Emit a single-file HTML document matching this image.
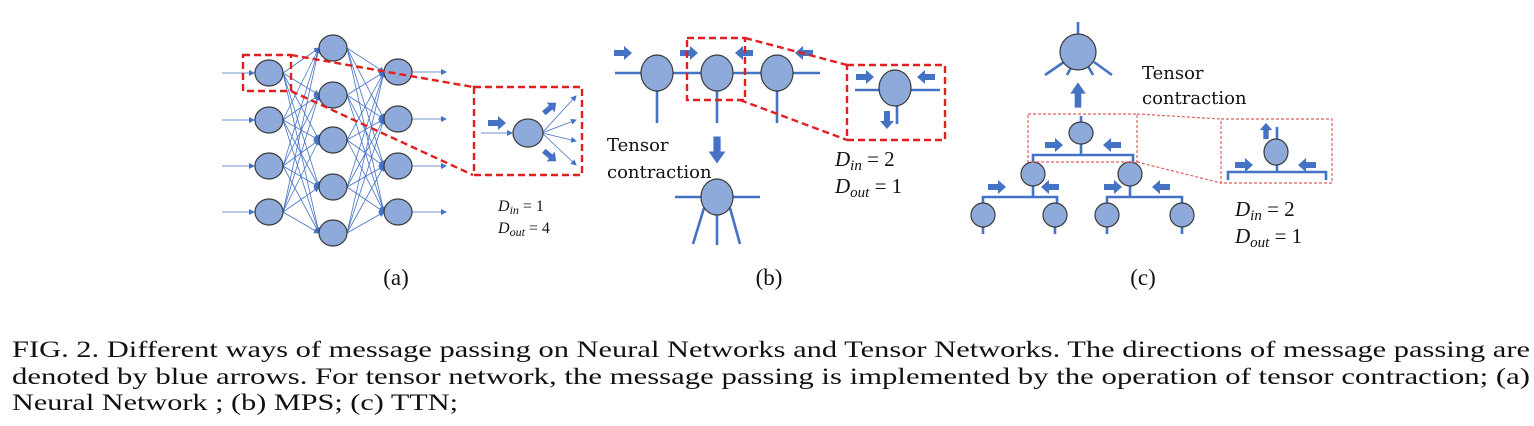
<!DOCTYPE html>
<html><head><meta charset="utf-8"><style>
html,body{margin:0;padding:0;background:#fff;}
svg{display:block;}
.n{fill:#8eaadb;stroke:#3a3a3a;stroke-width:1.2;}
.l{stroke:#4472c4;stroke-width:2.6;fill:none;}
.t{stroke:#4472c4;stroke-width:0.8;fill:none;}
.rd{stroke:#e02020;stroke-width:2.4;fill:none;stroke-dasharray:7,4;}
.rs{stroke:#e06060;stroke-width:1.2;fill:none;stroke-dasharray:3,2;}
.cap{font-family:"Liberation Serif",serif;font-size:23px;fill:#111;}
.tx{font-family:"DejaVu Serif","Liberation Serif",serif;font-size:18px;fill:#111;}
.m{font-family:"Liberation Serif",serif;fill:#111;}
</style></head><body>
<svg width="1534" height="426" viewBox="0 0 1534 426" xmlns="http://www.w3.org/2000/svg">
<defs>
<polygon id="ar" points="-9,-3 1,-3 1,-7 9,0 1,7 1,3 -9,3" fill="#4472c4"/>
<marker id="mh" markerWidth="6" markerHeight="6" refX="5" refY="3" orient="auto" markerUnits="userSpaceOnUse"><polygon points="0,0 6,3 0,6" fill="#4472c4"/></marker>
</defs>
<!-- (a) -->
<g id="nn"></g>
<g>
<line class="t" x1="222" y1="73" x2="254" y2="73" marker-end="url(#mh)"/>
<line class="t" x1="222" y1="120" x2="254" y2="120" marker-end="url(#mh)"/>
<line class="t" x1="222" y1="166" x2="254" y2="166" marker-end="url(#mh)"/>
<line class="t" x1="222" y1="212" x2="254" y2="212" marker-end="url(#mh)"/>
<line class="t" x1="412" y1="72" x2="446" y2="72" marker-end="url(#mh)"/>
<line class="t" x1="412" y1="119" x2="446" y2="119" marker-end="url(#mh)"/>
<line class="t" x1="412" y1="166" x2="446" y2="166" marker-end="url(#mh)"/>
<line class="t" x1="412" y1="212" x2="446" y2="212" marker-end="url(#mh)"/>
</g>
<g id="nodesA"></g>
<rect class="rd" x="243" y="55" width="48" height="36"/>
<line class="rd" x1="291" y1="55" x2="473" y2="87"/>
<line class="rd" x1="291" y1="91" x2="473" y2="175"/>
<rect class="rd" x="474" y="87" width="108" height="88"/>
<line class="t" x1="481" y1="133" x2="512" y2="133" marker-end="url(#mh)"/>
<use href="#ar" transform="translate(497,123)"/>
<line class="t" x1="542" y1="133" x2="576" y2="96" marker-end="url(#mh)"/>
<line class="t" x1="542" y1="133" x2="576" y2="120" marker-end="url(#mh)"/>
<line class="t" x1="542" y1="133" x2="576" y2="141" marker-end="url(#mh)"/>
<line class="t" x1="542" y1="133" x2="576" y2="165" marker-end="url(#mh)"/>
<use href="#ar" transform="translate(550,108) rotate(-40) scale(0.9)"/>
<use href="#ar" transform="translate(550,156) rotate(40) scale(0.9)"/>
<ellipse class="n" cx="528" cy="133" rx="15" ry="14"/>
<text class="m" x="498" y="211" font-size="16"><tspan font-style="italic">D</tspan><tspan font-style="italic" font-size="12" dy="3">in</tspan><tspan dy="-3"> = 1</tspan></text>
<text class="m" x="498" y="233" font-size="16"><tspan font-style="italic">D</tspan><tspan font-style="italic" font-size="12" dy="3">out</tspan><tspan dy="-3"> = 4</tspan></text>
<text class="cap" x="396" y="285" text-anchor="middle">(a)</text>
<!-- (b) -->
<line class="l" x1="615" y1="73" x2="820" y2="73"/>
<line class="l" x1="657" y1="90" x2="657" y2="123"/>
<line class="l" x1="717" y1="90" x2="717" y2="123"/>
<line class="l" x1="777" y1="90" x2="777" y2="123"/>
<ellipse class="n" cx="657" cy="73" rx="16" ry="18"/>
<ellipse class="n" cx="717" cy="73" rx="16" ry="18"/>
<ellipse class="n" cx="777" cy="73" rx="16" ry="18"/>
<use href="#ar" transform="translate(623,53)"/>
<use href="#ar" transform="translate(689,53)"/>
<use href="#ar" transform="translate(744,53) rotate(180)"/>
<use href="#ar" transform="translate(804,53) rotate(180)"/>
<rect class="rd" x="687" y="38" width="58" height="62"/>
<line class="rd" x1="745" y1="38" x2="847" y2="65"/>
<line class="rd" x1="740" y1="100" x2="847" y2="140"/>
<rect class="rd" x="847" y="65" width="98" height="75"/>
<line class="l" x1="855" y1="90" x2="940" y2="90"/>
<line class="l" x1="897" y1="105" x2="897" y2="124"/>
<ellipse class="n" cx="895" cy="88" rx="16" ry="18"/>
<use href="#ar" transform="translate(865,77)"/>
<use href="#ar" transform="translate(926,77) rotate(180)"/>
<use href="#ar" transform="translate(887,120) rotate(90)"/>
<text class="tx" x="607" y="151">Tensor</text>
<text class="tx" x="607" y="178">contraction</text>
<use href="#ar" transform="translate(717,150) rotate(90) scale(1.5,1.2)"/>
<line class="l" x1="675" y1="197" x2="760" y2="197"/>
<line class="l" x1="704" y1="208" x2="693" y2="244"/>
<line class="l" x1="717" y1="212" x2="717" y2="245"/>
<line class="l" x1="730" y1="208" x2="740" y2="244"/>
<ellipse class="n" cx="717" cy="197" rx="16" ry="18"/>
<text class="m" x="835" y="166" font-size="21"><tspan font-style="italic">D</tspan><tspan font-style="italic" font-size="15" dy="4">in</tspan><tspan dy="-4"> =  2</tspan></text>
<text class="m" x="835" y="193" font-size="21"><tspan font-style="italic">D</tspan><tspan font-style="italic" font-size="15" dy="4">out</tspan><tspan dy="-4"> = 1</tspan></text>
<text class="cap" x="769" y="285" text-anchor="middle">(b)</text>
<!-- (c) -->
<line class="l" x1="1078" y1="22" x2="1078" y2="36"/>
<line class="l" x1="1045" y1="75" x2="1064" y2="62"/>
<line class="l" x1="1067" y1="75" x2="1072" y2="66"/>
<line class="l" x1="1093" y1="75" x2="1088" y2="66"/>
<line class="l" x1="1112" y1="75" x2="1094" y2="62"/>
<ellipse class="n" cx="1078" cy="52" rx="18" ry="18"/>
<use href="#ar" transform="translate(1078,95) rotate(-90) scale(1.4,1.1)"/>
<text class="tx" x="1142" y="79">Tensor</text>
<text class="tx" x="1142" y="104">contraction</text>
<line class="l" x1="1081" y1="116" x2="1081" y2="155"/>
<polyline class="l" points="1033,162 1033,155 1133,155 1133,162"/>
<line class="l" x1="1033" y1="185" x2="1033" y2="197"/>
<line class="l" x1="1130" y1="185" x2="1130" y2="197"/>
<polyline class="l" points="983,205 983,197 1057,197 1057,205"/>
<polyline class="l" points="1107,205 1107,197 1182,197 1182,205"/>
<line class="l" x1="983" y1="225" x2="983" y2="234"/>
<line class="l" x1="1055" y1="225" x2="1055" y2="234"/>
<line class="l" x1="1107" y1="225" x2="1107" y2="234"/>
<line class="l" x1="1182" y1="225" x2="1182" y2="234"/>
<ellipse class="n" cx="1081" cy="133" rx="12" ry="11"/>
<ellipse class="n" cx="1033" cy="174" rx="12" ry="12"/>
<ellipse class="n" cx="1130" cy="174" rx="12" ry="12"/>
<ellipse class="n" cx="983" cy="215" rx="12" ry="12"/>
<ellipse class="n" cx="1055" cy="215" rx="12" ry="12"/>
<ellipse class="n" cx="1107" cy="215" rx="12" ry="12"/>
<ellipse class="n" cx="1182" cy="215" rx="12" ry="12"/>
<use href="#ar" transform="translate(1054,145)"/>
<use href="#ar" transform="translate(1112,145) rotate(180)"/>
<use href="#ar" transform="translate(997,187)"/>
<use href="#ar" transform="translate(1050,187) rotate(180)"/>
<use href="#ar" transform="translate(1113,187)"/>
<use href="#ar" transform="translate(1161,187) rotate(180)"/>
<rect class="rs" x="1028" y="114" width="109" height="48"/>
<line class="rs" x1="1137" y1="114" x2="1221" y2="119"/>
<line class="rs" x1="1137" y1="162" x2="1221" y2="183"/>
<rect class="rs" x="1221" y="119" width="111" height="64"/>
<line class="l" x1="1277" y1="127" x2="1277" y2="140"/>
<line class="l" x1="1277" y1="163" x2="1277" y2="172"/>
<polyline class="l" points="1228,180 1228,172 1326,172 1326,180"/>
<ellipse class="n" cx="1276" cy="152" rx="12" ry="13"/>
<use href="#ar" transform="translate(1266,131) rotate(-90) scale(0.9)"/>
<use href="#ar" transform="translate(1244,165)"/>
<use href="#ar" transform="translate(1307,165) rotate(180)"/>
<text class="m" x="1235" y="216" font-size="21"><tspan font-style="italic">D</tspan><tspan font-style="italic" font-size="15" dy="4">in</tspan><tspan dy="-4"> =  2</tspan></text>
<text class="m" x="1235" y="243" font-size="21"><tspan font-style="italic">D</tspan><tspan font-style="italic" font-size="15" dy="4">out</tspan><tspan dy="-4"> = 1</tspan></text>
<text class="cap" x="1143" y="285" text-anchor="middle">(c)</text>
<!-- caption -->
<text class="cap" x="12" y="357" textLength="1518" lengthAdjust="spacingAndGlyphs">FIG. 2.  Different ways of message passing on Neural Networks and Tensor Networks.  The directions of message passing are</text>
<text class="cap" x="12" y="384" textLength="1518" lengthAdjust="spacingAndGlyphs">denoted by blue arrows.  For tensor network, the message passing is implemented by the operation of tensor contraction; (a)</text>
<text class="cap" x="12" y="410" textLength="446" lengthAdjust="spacingAndGlyphs">Neural Network ; (b) MPS; (c) TTN;</text>
</svg>
<script>
(function(){
var ns="http://www.w3.org/2000/svg";
var L1=[73,120,166,212],L2=[48,95,140,187,233],L3=[72,119,166,212];
var g=document.getElementById('nn'),na=document.getElementById('nodesA');
function ln(x1,y1,x2,y2){var e=document.createElementNS(ns,'line');e.setAttribute('class','t');e.setAttribute('x1',x1);e.setAttribute('y1',y1);e.setAttribute('x2',x2);e.setAttribute('y2',y2);e.setAttribute('marker-end','url(#mh)');g.appendChild(e);}
L1.forEach(function(a){L2.forEach(function(b){ln(283,a,319,b);});});
L2.forEach(function(a){L3.forEach(function(b){ln(347,a,384,b);});});
function nd(x,y){var e=document.createElementNS(ns,'ellipse');e.setAttribute('class','n');e.setAttribute('cx',x);e.setAttribute('cy',y);e.setAttribute('rx',14);e.setAttribute('ry',13);na.appendChild(e);}
L1.forEach(function(y){nd(269,y);});L2.forEach(function(y){nd(333,y);});L3.forEach(function(y){nd(398,y);});
})();
</script>
</body></html>
